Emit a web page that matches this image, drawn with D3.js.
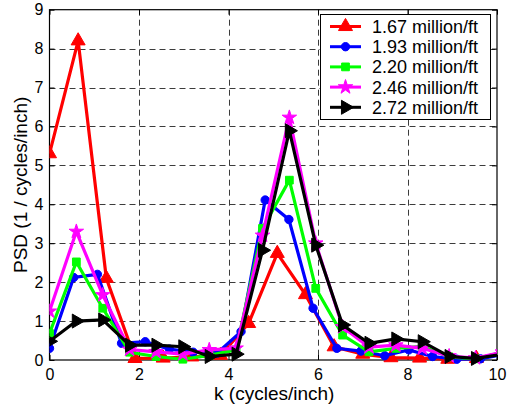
<!DOCTYPE html>
<html>
<head>
<meta charset="utf-8">
<script src="https://cdn.jsdelivr.net/npm/d3@7"></script>
<style>
  html, body { margin: 0; padding: 0; background: #fff; }
  svg { display: block; font-family: "Liberation Sans", Arial, sans-serif; }
</style>
</head>
<body>
<svg id="chart" width="509" height="408"></svg>
<script>
// Wavenumber samples (cycles/inch) for each belt speed
const kRed   = [0, 0.64, 1.27, 1.91, 2.54, 3.18, 3.82, 4.45, 5.09, 5.72, 6.36, 7.00, 7.63, 8.27, 8.90, 9.54, 10.18];
const kBlue  = [0, 0.54, 1.07, 1.61, 2.14, 2.68, 3.21, 3.75, 4.28, 4.82, 5.35, 5.89, 6.42, 6.96, 7.49, 8.03, 8.56, 9.10, 9.63, 10.17];
const kShared = [0, 0.60, 1.19, 1.79, 2.38, 2.98, 3.57, 4.17, 4.76, 5.36, 5.95, 6.55, 7.14, 7.74, 8.33, 8.93, 9.52, 10.12];

// PSD values (1 / cycles/inch)
const psd167 = [5.3, 8.2, 2.1, 0.04, 0.05, 0.08, 0.12, 0.94, 2.74, 1.68, 0.34, 0.15, 0.06, 0.05, 0.02, 0.04, 0.2];
const psd193 = [0.3, 2.12, 2.2, 0.43, 0.47, 0.28, 0.2, 0.18, 0.73, 4.11, 3.61, 1.33, 0.3, 0.23, 0.11, 0.26, 0.09, 0.02, 0.03, 0.15];
const psd220 = [0.68, 2.52, 1.33, 0.2, 0.09, 0.02, 0.12, 0.26, 3.38, 4.62, 1.84, 0.64, 0.21, 0.3, 0.35, 0.08, 0.03, 0.2];
const psd246 = [1.25, 3.3, 1.67, 0.27, 0.21, 0.15, 0.26, 0.3, 3.2, 6.23, 3.0, 0.85, 0.33, 0.38, 0.3, 0.1, 0.05, 0.2];
const psd272 = [0.48, 1.0, 1.03, 0.38, 0.38, 0.34, 0.09, 0.15, 2.82, 5.89, 2.95, 0.9, 0.43, 0.54, 0.47, 0.09, 0.04, 0.15];

const seriesNames = ["1.67 million/ft", "1.93 million/ft", "2.20 million/ft", "2.46 million/ft", "2.72 million/ft"];
const seriesColors = ["#ff0000", "#0000ff", "#00ff00", "#ff00ff", "#000000"];
const seriesMarkers = ["triangleUp", "circle", "square", "star", "triangleRight"];

const xTicks = [0, 2, 4, 6, 8, 10];
const yTicks = [0, 1, 2, 3, 4, 5, 6, 7, 8, 9];

const seriesK = [kRed, kBlue, kShared, kShared, kShared];
const seriesV = [psd167, psd193, psd220, psd246, psd272];

const series = seriesNames.map((name, i) => ({
  name,
  color: seriesColors[i],
  marker: seriesMarkers[i],
  points: seriesK[i].map((k, j) => ({ k, v: seriesV[i][j] }))
}));

const svg = d3.select("#chart");
const margin = { left: 49.5, right: 12, top: 9.7, bottom: 48 };
const W = 509, H = 408;
const x = d3.scaleLinear().domain([0, 10]).range([margin.left, W - margin.right]);
const y = d3.scaleLinear().domain([0, 9]).range([H - margin.bottom, margin.top]);

svg.append("defs").append("clipPath").attr("id", "plotClip")
  .append("rect")
  .attr("x", x(0)).attr("y", y(9) - 10)
  .attr("width", x(10) - x(0)).attr("height", y(0) - y(9) + 20);

// grid
const grid = svg.append("g").attr("stroke", "#3c3c3c").attr("stroke-width", 1).attr("stroke-dasharray", "6,4");
grid.selectAll("line.gx").data(xTicks.slice(1, -1)).join("line")
  .attr("x1", d => Math.round(x(d)) + 0.5).attr("x2", d => Math.round(x(d)) + 0.5)
  .attr("y1", y(9)).attr("y2", y(0));
grid.selectAll("line.gy").data(yTicks.slice(1, -1)).join("line")
  .attr("y1", d => Math.round(y(d)) + 0.5).attr("y2", d => Math.round(y(d)) + 0.5)
  .attr("x1", x(0)).attr("x2", x(10));

// axes with inward ticks on all four sides
const tickLen = 5;
const axB = svg.append("g").attr("transform", `translate(0,${y(0)})`)
  .call(d3.axisBottom(x).tickValues(xTicks).tickSizeInner(-tickLen).tickSizeOuter(0).tickPadding(9));
const axL = svg.append("g").attr("transform", `translate(${x(0)},0)`)
  .call(d3.axisLeft(y).tickValues(yTicks).tickSizeInner(-tickLen).tickSizeOuter(0).tickPadding(6));
const axT = svg.append("g").attr("transform", `translate(0,${y(9)})`)
  .call(d3.axisTop(x).tickValues(xTicks).tickSizeInner(-tickLen).tickSizeOuter(0).tickFormat(""));
const axR = svg.append("g").attr("transform", `translate(${x(10)},0)`)
  .call(d3.axisRight(y).tickValues(yTicks).tickSizeInner(-tickLen).tickSizeOuter(0).tickFormat(""));
[axB, axL, axT, axR].forEach(a => {
  a.select(".domain").remove();
  a.selectAll("line").attr("stroke", "#000");
  a.selectAll("text").attr("font-size", 16).attr("fill", "#000")
    .attr("font-family", "'Liberation Sans', Arial, sans-serif");
});

// frame
svg.append("rect")
  .attr("x", x(0)).attr("y", y(9))
  .attr("width", x(10) - x(0)).attr("height", y(0) - y(9))
  .attr("fill", "none").attr("stroke", "#000").attr("stroke-width", 1.2);

const symbolFor = {
  triangleUp: d3.symbol().type(d3.symbolTriangle).size(85),
  circle: d3.symbol().type(d3.symbolCircle).size(55),
  square: d3.symbol().type(d3.symbolSquare).size(60),
  star: d3.symbol().type(d3.symbolStar).size(65),
  triangleRight: d3.symbol().type(d3.symbolTriangle).size(85)
};
const markerRotate = m => m === "triangleRight" ? 90 : 0;

const line = d3.line().x(d => x(d.k)).y(d => y(d.v));
const plot = svg.append("g").attr("clip-path", "url(#plotClip)");

series.forEach(s => {
  const g = plot.append("g");
  g.append("path").datum(s.points)
    .attr("d", line).attr("fill", "none")
    .attr("stroke", s.color).attr("stroke-width", 3.2).attr("stroke-linejoin", "miter");
  g.selectAll("path.mk").data(s.points).join("path")
    .attr("class", "mk")
    .attr("d", symbolFor[s.marker])
    .attr("transform", d => `translate(${x(d.k)},${y(d.v)}) rotate(${markerRotate(s.marker)})`)
    .attr("fill", s.color).attr("stroke", s.color).attr("stroke-width", 1);
});

// axis titles
svg.append("text")
  .attr("x", (x(0) + x(10)) / 2 + 1).attr("y", 400)
  .attr("text-anchor", "middle").attr("font-size", 19)
  .text("k (cycles/inch)");
svg.append("text")
  .attr("transform", `translate(27,${(y(0) + y(9)) / 2}) rotate(-90)`)
  .attr("text-anchor", "middle").attr("font-size", 19)
  .text("PSD (1 / cycles/inch)");

// legend
const lg = svg.append("g");
lg.append("rect")
  .attr("x", 320.5).attr("y", 14.5).attr("width", 170).attr("height", 105)
  .attr("fill", "#fff").attr("stroke", "#000").attr("stroke-width", 1);
series.forEach((s, i) => {
  const cy = 26.5 + i * 20.2;
  lg.append("line").attr("x1", 330).attr("x2", 361).attr("y1", cy).attr("y2", cy)
    .attr("stroke", s.color).attr("stroke-width", 3);
  lg.append("path").attr("d", symbolFor[s.marker])
    .attr("transform", `translate(345.5,${cy}) rotate(${markerRotate(s.marker)})`)
    .attr("fill", s.color).attr("stroke", s.color);
  lg.append("text").attr("x", 372).attr("y", cy).attr("dy", "0.36em")
    .attr("font-size", 18).text(s.name);
});
</script>
</body>
</html>
